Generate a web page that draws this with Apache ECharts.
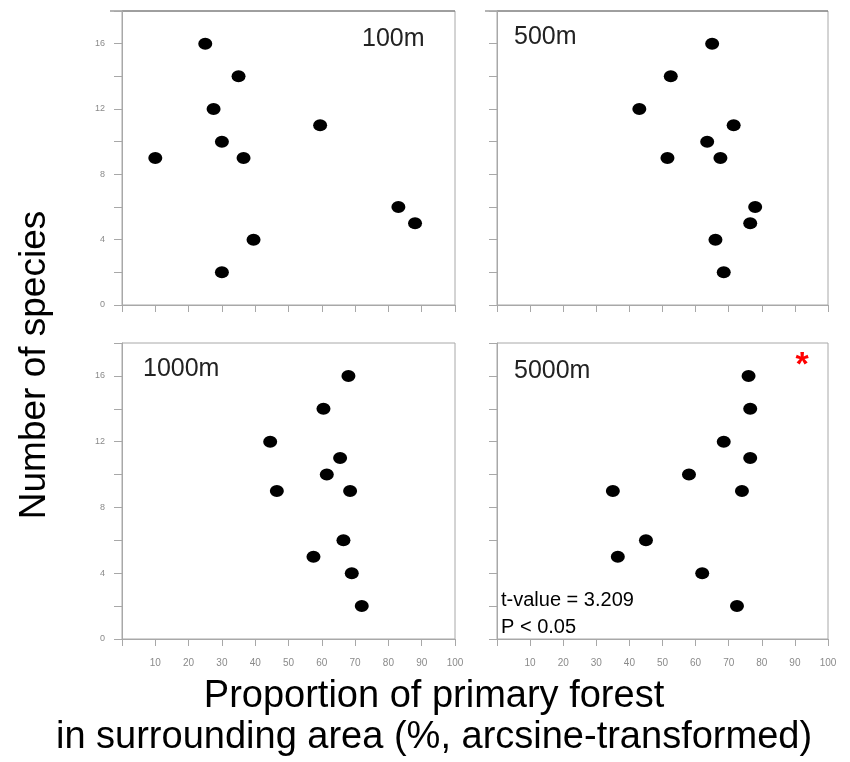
<!DOCTYPE html>
<html>
<head>
<meta charset="utf-8">
<script src="https://cdn.jsdelivr.net/npm/echarts@6/dist/echarts.min.js"></script>
<style>
html,body{margin:0;padding:0;background:#fff;}
#chart{width:850px;height:762px;}
</style>
</head>
<body>
<div id="chart"></div>
<script>
// ---- data ----
const panelNames = ['100m', '500m', '1000m', '5000m'];
const x100 = [25, 35, 27.5, 30, 10, 36.5, 59.5, 83, 88, 39.5, 30];
const y100 = [16, 14, 12, 10, 9, 9, 11, 6, 5, 4, 2];
const x500 = [65, 52.5, 43, 71.5, 63.5, 51.5, 67.5, 78, 76.5, 66, 68.5];
const y500 = [16, 14, 12, 11, 10, 9, 9, 6, 5, 4, 2];
const x1000 = [68, 60.5, 44.5, 65.5, 61.5, 46.5, 68.5, 66.5, 57.5, 69, 72];
const y1000 = [16, 14, 12, 11, 10, 9, 9, 6, 5, 4, 2];
const x5000 = [76, 76.5, 68.5, 76.5, 58, 35, 74, 45, 36.5, 62, 72.5];
const y5000 = [16, 14, 12, 11, 10, 9, 9, 6, 5, 4, 2];
const yTickLabels = [0, 4, 8, 12, 16];
const xTickLabels = [10, 20, 30, 40, 50, 60, 70, 80, 90, 100];
const yTitle = 'Number of species';
const xTitle1 = 'Proportion of primary forest';
const xTitle2 = 'in surrounding area (%, arcsine-transformed)';
const statLine1 = 't-value = 3.209';
const statLine2 = 'P < 0.05';

const xs = [x100, x500, x1000, x5000];
const ys = [y100, y500, y1000, y5000];

const lineCol = '#a8a8a8';
const labCol = '#8a8a8a';
const FONT = "'Liberation Sans', Arial, Helvetica, sans-serif";

const grids = [
  {left: 122, top: 11, width: 333, height: 294},
  {left: 497, top: 11, width: 331, height: 294},
  {left: 122, top: 343, width: 333, height: 296},
  {left: 497, top: 343, width: 331, height: 296}
];

const xAxes = [], yAxes = [], series = [];
for (let i = 0; i < 4; i++) {
  const bottomRow = i >= 2, leftCol = (i % 2 === 0);
  xAxes.push({
    type: 'value', gridIndex: i, min: 0, max: 100, interval: 10,
    axisLine: {show: true, lineStyle: {color: lineCol, width: 1}},
    axisTick: {show: true, inside: false, length: 7, lineStyle: {color: lineCol}},
    splitLine: {show: false},
    axisLabel: {
      show: bottomRow, margin: 19, color: labCol, fontSize: 10, fontFamily: FONT,
      formatter: v => xTickLabels.indexOf(v) >= 0 ? String(v) : ''
    }
  });
  yAxes.push({
    type: 'value', gridIndex: i, min: 0, max: 18, interval: 2,
    axisLine: {show: true, lineStyle: {color: lineCol, width: 1}},
    axisTick: {show: true, inside: false, length: 8, lineStyle: {color: lineCol}},
    splitLine: {show: false},
    axisLabel: {
      show: leftCol, margin: 17, color: labCol, fontSize: 9, fontFamily: FONT,
      formatter: v => yTickLabels.indexOf(v) >= 0 ? String(v) : ''
    }
  });
  series.push({
    type: 'scatter', xAxisIndex: i, yAxisIndex: i,
    symbol: 'circle', symbolSize: [14, 12],
    itemStyle: {color: '#000', opacity: 1},
    data: xs[i].map((x, k) => [x, ys[i][k]])
  });
}

// darker top border of the upper panels (derived from grid geometry)
const topLines = [0, 1].map(i => ({
  type: 'line', silent: true,
  shape: {x1: grids[i].left - 12, y1: grids[i].top, x2: grids[i].left + grids[i].width, y2: grids[i].top},
  style: {stroke: '#6a6a6a', lineWidth: 1.2}
}));

const graphic = topLines.concat([
  // panel labels
  {type: 'text', x: 362, y: 39, style: {text: panelNames[0], font: '25px ' + FONT, fill: '#222', textVerticalAlign: 'middle'}},
  {type: 'text', x: 514, y: 37, style: {text: panelNames[1], font: '25px ' + FONT, fill: '#222', textVerticalAlign: 'middle'}},
  {type: 'text', x: 143, y: 369, style: {text: panelNames[2], font: '25px ' + FONT, fill: '#222', textVerticalAlign: 'middle'}},
  {type: 'text', x: 514, y: 371, style: {text: panelNames[3], font: '25px ' + FONT, fill: '#222', textVerticalAlign: 'middle'}},
  // significance star
  {type: 'text', x: 802, y: 366, style: {text: '*', font: 'bold 34px ' + FONT, fill: '#ff0000', textAlign: 'center', textVerticalAlign: 'middle'}},
  // stats
  {type: 'text', x: 501, y: 600, style: {text: statLine1, font: '20px ' + FONT, fill: '#000', textVerticalAlign: 'middle'}},
  {type: 'text', x: 501, y: 627, style: {text: statLine2, font: '20px ' + FONT, fill: '#000', textVerticalAlign: 'middle'}},
  // axis titles
  {type: 'text', x: 35, y: 365, rotation: Math.PI / 2, style: {text: yTitle, font: '37px ' + FONT, fill: '#000', textAlign: 'center', textVerticalAlign: 'middle'}},
  {type: 'text', x: 434, y: 697, style: {text: xTitle1, font: '38px ' + FONT, fill: '#000', textAlign: 'center', textVerticalAlign: 'middle'}},
  {type: 'text', x: 434, y: 738, style: {text: xTitle2, font: '38px ' + FONT, fill: '#000', textAlign: 'center', textVerticalAlign: 'middle'}}
]);

const chart = echarts.init(document.getElementById('chart'), null, {renderer: 'canvas'});
chart.setOption({
  animation: false,
  backgroundColor: '#fff',
  grid: grids.map(g => Object.assign({show: true, borderColor: lineCol, borderWidth: 1, containLabel: false}, g)),
  xAxis: xAxes,
  yAxis: yAxes,
  series: series,
  graphic: graphic
});
</script>
</body>
</html>
